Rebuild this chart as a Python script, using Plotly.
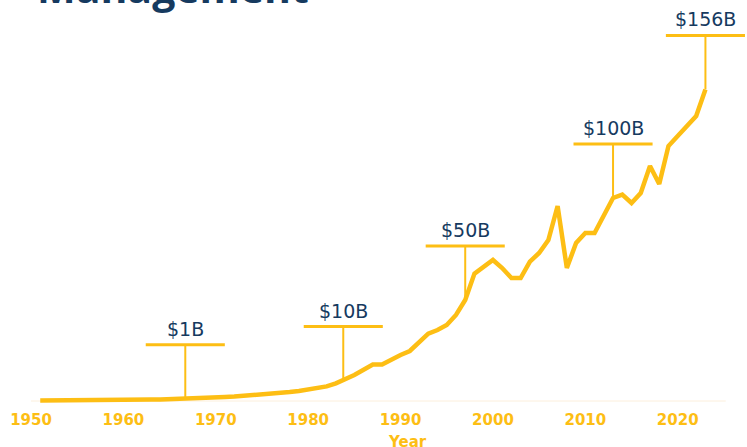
import plotly.graph_objects as go
import numpy as np

# ---- data ----
years = list(range(1951, 2024))
values = [
    0.2, 0.2, 0.3, 0.3, 0.3, 0.4, 0.5, 0.5, 0.5, 0.6,      # 1951-1960
    0.6, 0.7, 0.7, 0.8, 0.9, 1.0, 1.2, 1.4, 1.6, 1.8,      # 1961-1970
    2.0, 2.2, 2.5, 2.8, 3.1, 3.5, 4.0, 4.5, 5.0, 5.6,      # 1971-1980
    6.3, 7.3, 8.8, 10.6, 13.0, 15.6, 18.2, 18.2, 20.8, 23.0,  # 1981-1990
    25.0, 29.0, 33.7, 35.5, 38.0, 43.0, 50.5, 63.7, 67.0, 70.5,  # 1991-2000
    66.5, 61.5, 61.5, 69.7, 74.0, 80.5, 97.5, 66.5, 79.0, 84.0,  # 2001-2010
    84.0, 92.5, 101.5, 103.2, 99.0, 104.0, 117.5, 108.5, 127.5, 132.5,  # 2011-2020
    137.5, 142.5, 155.8,                                   # 2021-2023
]
milestone_years = [1966.7, 1983.8, 1997, 2013, 2023]
milestone_labels = ["$1B", "$10B", "$50B", "$100B", "$156B"]
tick_years = [1950, 1960, 1970, 1980, 1990, 2000, 2010, 2020]

YELLOW = "#FDBE14"
NAVY = "#163A5F"
BAR_HALF = 4.28
BAR_OFFSET = 27

fig = go.Figure()
fig.add_trace(go.Scatter(x=years, y=values, mode="lines",
                         line=dict(color=YELLOW, width=4.5),
                         hoverinfo="skip", showlegend=False))

# faint baseline
fig.add_shape(type="line", xref="x", yref="y", x0=1950, x1=2025.2, y0=0, y1=0,
              line=dict(color="#FCEFDC", width=1), layer="below")

for yr, lab in zip(milestone_years, milestone_labels):
    v = float(np.interp(yr, years, values))
    top = v + BAR_OFFSET
    fig.add_shape(type="line", xref="x", yref="y", x0=yr, x1=yr, y0=v, y1=top,
                  line=dict(color=YELLOW, width=2))
    fig.add_shape(type="line", xref="x", yref="y", x0=yr - BAR_HALF, x1=yr + BAR_HALF,
                  y0=top, y1=top, line=dict(color=YELLOW, width=3))
    fig.add_annotation(x=yr, y=top, xref="x", yref="y", text=lab, showarrow=False,
                       yanchor="bottom", yshift=3,
                       font=dict(family="DejaVu Sans", size=19, color=NAVY))

# cut-off title
fig.add_annotation(x=0.005, y=0.961, xref="paper", yref="paper", text="Management",
                   showarrow=False, xanchor="left", yanchor="bottom",
                   font=dict(family="Open Sans", size=41, color=NAVY, weight=700))

# axis title
fig.add_annotation(x=0.5265, y=-0.08, xref="paper", yref="paper", text="Year",
                   showarrow=False, xanchor="center", yanchor="middle",
                   font=dict(family="DejaVu Sans", size=15, color=YELLOW, weight=700))

fig.update_layout(
    width=747, height=447,
    margin=dict(l=31, r=0, t=1, b=38),
    paper_bgcolor="white", plot_bgcolor="white",
    showlegend=False,
    xaxis=dict(range=[1950, 2027.5], tickvals=tick_years, showgrid=False,
               zeroline=False, showline=False, ticks="",
               tickfont=dict(family="DejaVu Sans", size=15, color=YELLOW, weight=700)),
    yaxis=dict(range=[-4, 200], showgrid=False, zeroline=False, showline=False,
               showticklabels=False, ticks=""),
)

fig.write_html("out.html")
